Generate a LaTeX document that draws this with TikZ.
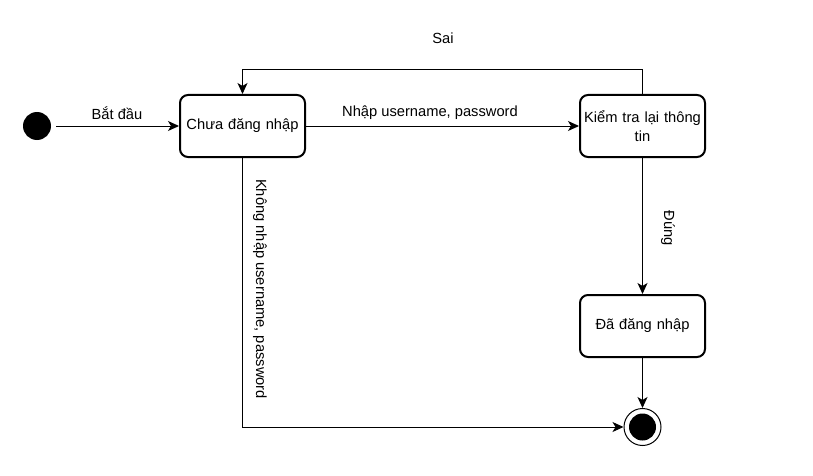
\documentclass[tikz,border=0pt]{standalone}
\usepackage{fontspec}
\setmainfont{Liberation Sans}
\usetikzlibrary{arrows.meta,calc}
\begin{document}
\begin{tikzpicture}[x=1pt,y=-1pt,
  state/.style={draw,line width=2pt,rounded corners=8pt,minimum width=125pt,minimum height=62pt,align=center,text width=121pt,font=\fontsize{14.7}{19}\selectfont,inner sep=0pt},
  conn/.style={line width=1pt,-{Stealth[length=11pt,width=10pt,inset=3pt]}},
  lbl/.style={font=\fontsize{14.7}{18}\selectfont}]
\useasboundingbox (0,0) rectangle (813,476);
\node[circle,fill=black,minimum size=28pt,inner sep=0pt] (start) at (37,126) {};
\node[state] (chua) at (242.5,126) {Chưa đăng nhập};
\node[state] (kiem) at (642.5,126) {Kiểm tra lại thông\\tin};
\node[state] (da) at (642.5,326) {Đã đăng nhập};
\node[circle,draw,line width=1pt,minimum size=37pt,inner sep=0pt] (end) at (642.5,427) {};
\node[circle,fill=black,minimum size=27pt,inner sep=0pt] at (end) {};
\coordinate (s1) at (642.5,70);
\coordinate (s2) at (242.5,70);
\coordinate (k1) at (242.5,427);
\draw[conn,shorten <=5pt] (start) -- (chua);
\node[lbl] (batdau) at (117,113) {Bắt đầu};
\draw[conn] (chua) -- (kiem);
\node[lbl] (nhap) at (430,113) {Nhập username, password};
\draw[conn] (kiem.north) -- (s1) -- (s2) -- (chua.north);
\node[lbl] (sai) at (443,38) {Sai};
\draw[conn] (kiem) -- (da);
\node[lbl,rotate=-90] (dung) at (668,228) {Đúng};
\draw[conn] (da) -- (end);
\draw[conn] (chua.south) -- (k1) -- (end.west);
\node[lbl,rotate=-90] (khong) at (260,289) {Không nhập username, password};
\end{tikzpicture}
\end{document}
